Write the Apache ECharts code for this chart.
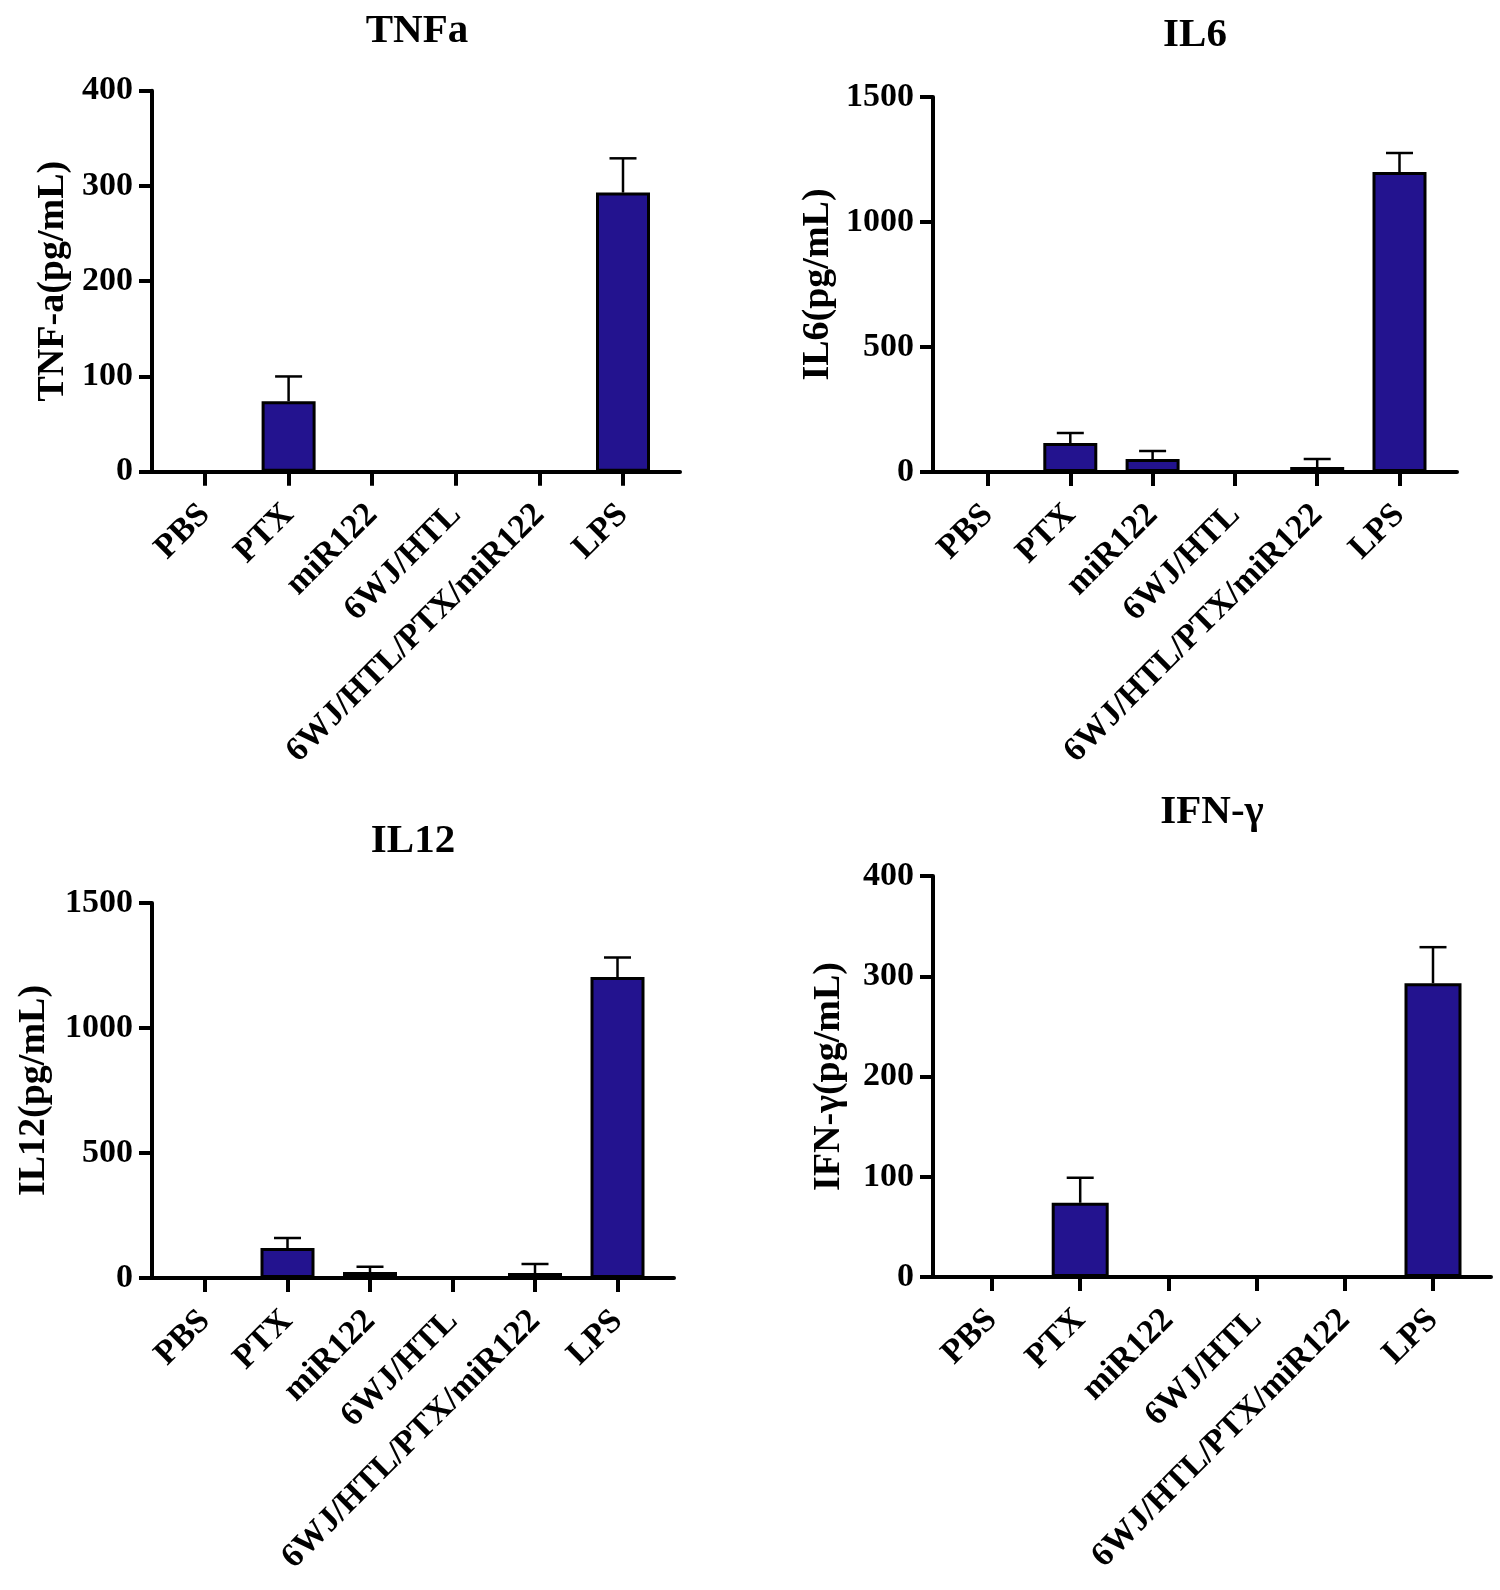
<!DOCTYPE html>
<html><head><meta charset="utf-8">
<script src="https://cdn.jsdelivr.net/npm/echarts@6/dist/echarts.min.js"></script>
<style>html,body{margin:0;padding:0;background:#fff}#c{width:1500px;height:1590px}</style>
</head><body><div id="c"></div>
<script>
// ---- data ----
const categories = ['PBS', 'PTX', 'miR122', '6WJ/HTL', '6WJ/HTL/PTX/miR122', 'LPS'];
const titles = ['TNFa', 'IL6', 'IL12', 'IFN-γ'];
const yNames = ['TNF-a(pg/mL)', 'IL6(pg/mL)', 'IL12(pg/mL)', 'IFN-γ(pg/mL)'];
const tnfaValues = [0, 74, 0, 0, 0, 293];
const tnfaErrors = [0, 26, 0, 0, 0, 36];
const il6Values = [0, 116, 52, 0, 20, 1200];
const il6Errors = [0, 40, 32, 0, 32, 76];
const il12Values = [0, 120, 24, 0, 20, 1204];
const il12Errors = [0, 40, 21, 0, 36, 78];
const ifnValues = [0, 74, 0, 0, 0, 293];
const ifnErrors = [0, 25, 0, 0, 0, 36];
const yMaxes = [400, 1500, 1500, 400];
const yIntervals = [100, 500, 500, 100];

const valuesList = [tnfaValues, il6Values, il12Values, ifnValues];
const errorsList = [tnfaErrors, il6Errors, il12Errors, ifnErrors];

// ---- layout (pixels) ----
const layouts = [
  {left: 152, top: 90.7, right: 680, bottom: 471.7, firstTick: 205, tickStep: 83.6, barWidth: 54, nameGap: 80, titleX: 417, titleY: 31},
  {left: 933, top: 97, right: 1457, bottom: 472, firstTick: 988, tickStep: 82.3, barWidth: 54, nameGap: 96, titleX: 1195, titleY: 35},
  {left: 152, top: 903, right: 674, bottom: 1278, firstTick: 205, tickStep: 82.5, barWidth: 54, nameGap: 99, titleX: 413, titleY: 841},
  {left: 933, top: 876, right: 1491, bottom: 1277, firstTick: 992, tickStep: 88.2, barWidth: 57, nameGap: 85, titleX: 1212, titleY: 812}
];

const FONT = '"Liberation Serif", "Times New Roman", Times, serif';
const BAR_COLOR = '#23138f';
const idx = categories.map((c, i) => i);

const grids = [], xAxes = [], yAxes = [], series = [], graphics = [];
layouts.forEach((L, k) => {
  const n = categories.length;
  const width = L.right - L.left;
  const xmin = -(L.firstTick - L.left) / L.tickStep;
  const xmax = (n - 1) + (L.right - (L.firstTick + (n - 1) * L.tickStep)) / L.tickStep;
  grids.push({left: L.left, top: L.top, width: width, height: L.bottom - L.top, containLabel: false});
  xAxes.push({
    type: 'value', gridIndex: k, min: xmin, max: xmax,
    splitLine: {show: false},
    axisLine: {show: true, onZero: false, lineStyle: {color: '#000', width: 4}},
    axisTick: {show: true, customValues: idx, length: 14, lineStyle: {color: '#000', width: 4}},
    axisLabel: {
      show: true, customValues: idx, rotate: 45, margin: 38,
      formatter: v => categories[Math.round(v)] || '',
      fontFamily: FONT, fontWeight: 'bold', fontSize: 34, color: '#000'
    }
  });
  yAxes.push({
    type: 'value', gridIndex: k, min: 0, max: yMaxes[k], interval: yIntervals[k],
    splitLine: {show: false},
    axisLine: {show: true, onZero: false, lineStyle: {color: '#000', width: 4}},
    axisTick: {show: true, length: 13, lineStyle: {color: '#000', width: 4}},
    axisLabel: {margin: 19, formatter: v => String(v), fontFamily: FONT, fontWeight: 'bold', fontSize: 34, color: '#000'},
    name: yNames[k], nameLocation: 'middle', nameGap: L.nameGap,
    nameTextStyle: {fontFamily: FONT, fontWeight: 'bold', fontSize: 38, color: '#000'}
  });
  series.push({
    type: 'bar', xAxisIndex: k, yAxisIndex: k, barWidth: L.barWidth,
    data: valuesList[k].map((v, i) => [i, v]),
    itemStyle: {color: BAR_COLOR, borderColor: '#000', borderWidth: 3},
    z: 2, animation: false
  });
  series.push({
    type: 'custom', xAxisIndex: k, yAxisIndex: k, z: 3, animation: false,
    data: valuesList[k].map((v, i) => [i, v, errorsList[k][i]]),
    renderItem: (params, api) => {
      const i = api.value(0), v = api.value(1), e = api.value(2);
      if (!e) return null;
      const p0 = api.coord([i, v]);
      const p1 = api.coord([i, v + e]);
      const hw = 13.5;
      return {
        type: 'group', children: [
          {type: 'line', shape: {x1: p0[0], y1: p0[1], x2: p1[0], y2: p1[1]}, style: {stroke: '#000', lineWidth: 2.5}},
          {type: 'line', shape: {x1: p1[0] - hw, y1: p1[1], x2: p1[0] + hw, y2: p1[1]}, style: {stroke: '#000', lineWidth: 2.5}}
        ]
      };
    }
  });
  graphics.push({
    type: 'text', x: L.titleX, y: L.titleY,
    style: {text: titles[k], font: 'bold 41px ' + FONT, fill: '#000', align: 'center', verticalAlign: 'middle'}
  });
});

const chart = echarts.init(document.getElementById('c'), null, {renderer: 'canvas'});
chart.setOption({
  backgroundColor: '#fff',
  animation: false,
  grid: grids, xAxis: xAxes, yAxis: yAxes, series: series,
  graphic: graphics
});
</script></body></html>
